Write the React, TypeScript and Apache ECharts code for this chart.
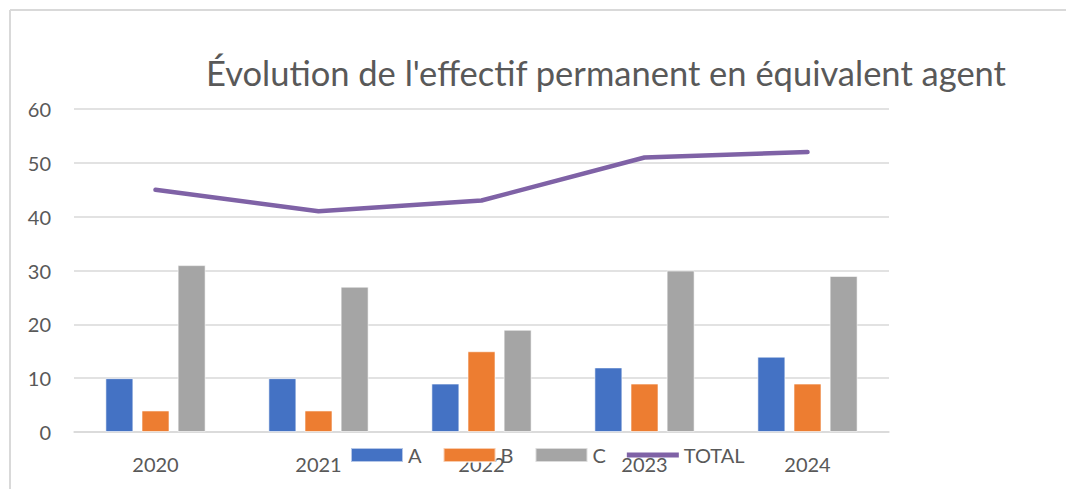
import React, { useEffect, useRef } from "react";
import * as echarts from "echarts";

const categories = ["2020", "2021", "2022", "2023", "2024"];
const seriesA = [10, 10, 9, 12, 14];
const seriesB = [4, 4, 15, 9, 9];
const seriesC = [31, 27, 19, 30, 29];
const total = [45, 41, 43, 51, 52];
const titleText = "Évolution de l'effectif permanent en équivalent agent";

const FONT = "Lato, 'Noto Sans', sans-serif";
const TXT = "#595959";
const PURPLE = "#7F62A6";

export default function App() {
  const ref = useRef<HTMLDivElement>(null);
  useEffect(() => {
    document.body.style.margin = "0";
    const chart = echarts.init(ref.current!, null, { renderer: "svg" });
    const barCommon = {
      type: "bar" as const,
      barWidth: 28,
      barGap: "29%",
      itemStyle: { borderColor: "rgba(255,255,255,0.6)", borderWidth: 1 },
    };
    chart.setOption({
      animation: false,
      backgroundColor: "#ffffff",
      textStyle: { fontFamily: FONT },
      title: {
        text: titleText,
        left: 601,
        top: 50,
        textAlign: "center",
        textStyle: { fontFamily: FONT, fontSize: 34.5, fontWeight: "normal", color: TXT },
      },
      graphic: [
        { type: "line", shape: { x1: 10, y1: 10, x2: 1066, y2: 10 }, style: { stroke: "#D9D9D9", lineWidth: 2 } },
        { type: "line", shape: { x1: 10, y1: 10, x2: 10, y2: 489 }, style: { stroke: "#D9D9D9", lineWidth: 2 } },
      ],
      legend: {
        left: 350,
        top: 445,
        padding: 0,
        itemWidth: 52,
        itemHeight: 14,
        itemGap: 21,
        textStyle: { fontFamily: FONT, fontSize: 20, color: TXT },
        data: [
          { name: "A", icon: "rect" },
          { name: "B", icon: "rect" },
          { name: "C", icon: "rect" },
          {
            name: "TOTAL",
            icon: "path://M0 0H52V5H0Z",
            itemStyle: { color: PURPLE },
            lineStyle: { opacity: 0 },
          },
        ],
      },
      grid: { left: 74, right: 177, top: 109, bottom: 57, containLabel: false },
      xAxis: {
        type: "category",
        data: categories,
        axisLine: { lineStyle: { color: "#D9D9D9", width: 1.5 } },
        axisTick: { show: false },
        axisLabel: { fontFamily: FONT, fontSize: 20, color: TXT, margin: 22 },
      },
      yAxis: {
        type: "value",
        min: 0,
        max: 60,
        interval: 10,
        axisLine: { show: false },
        axisTick: { show: false },
        splitLine: { lineStyle: { color: "#D9D9D9", width: 1.5 } },
        axisLabel: { fontFamily: FONT, fontSize: 20, color: TXT, margin: 23 },
      },
      series: [
        { ...barCommon, name: "A", data: seriesA, itemStyle: { ...barCommon.itemStyle, color: "#4472C4" } },
        { ...barCommon, name: "B", data: seriesB, itemStyle: { ...barCommon.itemStyle, color: "#ED7D31" } },
        { ...barCommon, name: "C", data: seriesC, itemStyle: { ...barCommon.itemStyle, color: "#A5A5A5" } },
        {
          name: "TOTAL",
          type: "line",
          data: total,
          showSymbol: false,
          symbol: "none",
          itemStyle: { color: PURPLE },
          lineStyle: { color: PURPLE, width: 4.5, cap: "round" },
        },
      ],
    });
    return () => chart.dispose();
  }, []);
  return <div ref={ref} style={{ width: 1066, height: 489 }} />;
}
